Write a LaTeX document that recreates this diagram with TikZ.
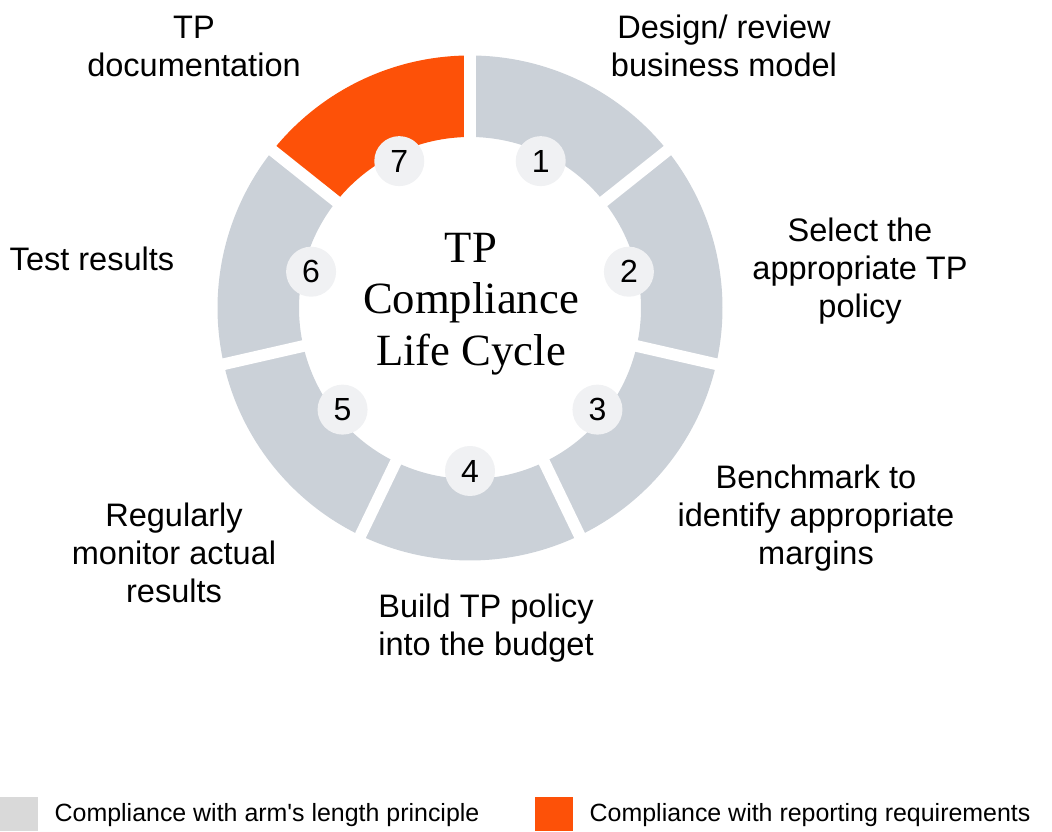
\documentclass[tikz,border=0pt]{standalone}
\usepackage{fontspec}
\setmainfont{Liberation Sans}
\newfontfamily\titlefont{Liberation Serif}
\usepackage{tikz}
\definecolor{ringgray}{RGB}{203,209,216}
\definecolor{report}{RGB}{253,81,8}
\definecolor{badgefill}{RGB}{240,241,243}
\definecolor{keygray}{RGB}{217,217,217}
\newcommand{\ringpiece}[2]{
    \pgfmathsetmacro{\from}{90-360/7*(#1-1)}
    \pgfmathsetmacro{\to}{90-360/7*#1}
    \fill[#2] (\from:171) arc[start angle=\from, end angle=\to, radius=171]
        -- (\to:252.5) arc[start angle=\to, end angle=\from, radius=252.5] -- cycle;
}
\newcommand{\steplabel}[4]{\node[label text] (#1) at (#2,828-#3) {#4};}
\tikzset{
    label text/.style={align=center, font=\fontsize{24.4}{28.5}\selectfont},
    step badge/.style={circle, fill=badgefill, minimum size=37.5pt, inner sep=0pt},
    key text/.style={anchor=west, font=\fontsize{18.7}{22}\selectfont}
}

\begin{document}
\begin{tikzpicture}[x=0.75pt, y=0.75pt]
\useasboundingbox (0,0) rectangle (1052,831);
\begin{scope}[shift={(470,523)}]
    \foreach \k in {1,...,6}{\ringpiece{\k}{ringgray}}
    \ringpiece{7}{report}
    % gaps between the pieces
    \foreach \k in {0,...,6}{
        \pgfmathsetmacro{\gap}{90-360/7*\k}
        \draw[white, line width=8.8pt] (0,0) -- (\gap:262);
    }
    \foreach \k in {1,...,7}{
        \pgfmathsetmacro{\mid}{90-360/7*(\k-0.5)}
        \node[step badge] (n\k) at (\mid:163) {\fontsize{24}{26}\selectfont\k};
    }
    \node[align=center, font=\titlefont\fontsize{33.5}{38.5}\selectfont] (title) at (1,4) {TP\\Compliance\\Life Cycle};
\end{scope}
\steplabel{doc}{194}{43}{TP\\documentation}
\steplabel{design}{724}{43}{Design/ review\\business model}
\steplabel{select}{860}{268}{Select the\\appropriate TP\\policy}
\steplabel{bench}{816}{515}{Benchmark to\\identify appropriate\\margins}
\steplabel{budget}{486}{625}{Build TP policy\\into the budget}
\steplabel{monitor}{174}{550}{Regularly\\monitor actual\\results}
\steplabel{test}{92}{256}{Test results}
% legend
\fill[keygray] (0,0) rectangle (38,34);
\node[key text] (armkey) at (50,16) {Compliance with arm\textquotesingle s length principle};
\fill[report] (535,0) rectangle (573,34);
\node[key text] (repkey) at (585,16) {Compliance with reporting requirements};
\end{tikzpicture}
\end{document}
